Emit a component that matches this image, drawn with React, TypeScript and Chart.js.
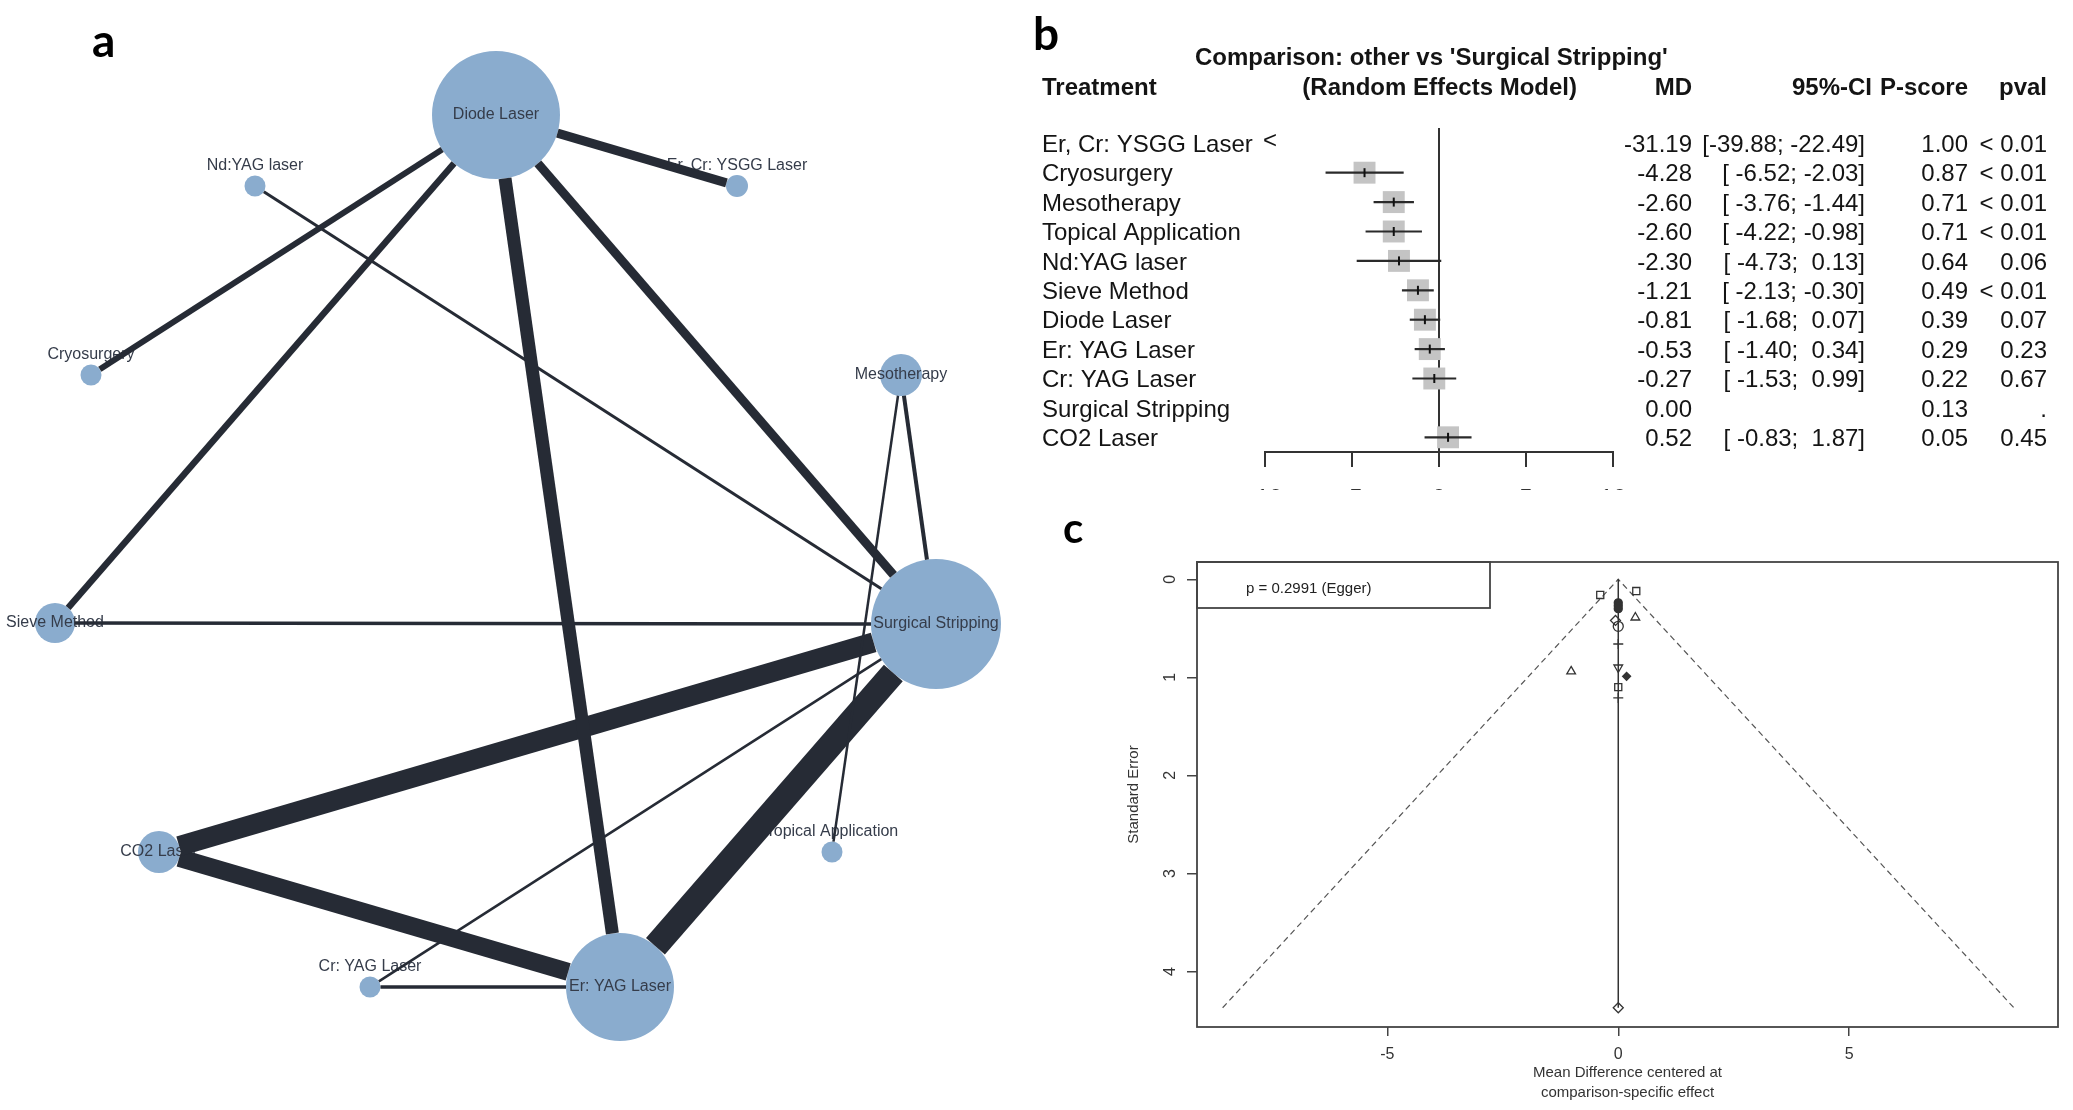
import React, { useEffect, useRef } from 'react';
import { Chart, registerables } from 'chart.js';

Chart.register(...registerables);

const FONT = '"Liberation Sans", Arial, Helvetica, sans-serif';
const LETTER_FONT = 'Lato, "Open Sans", "Liberation Sans", sans-serif';
Chart.defaults.font.family = FONT;

// ---------------- Panel a : network ----------------
const nodeNames = [
  'Diode Laser', 'Nd:YAG laser', 'Er, Cr: YSGG Laser', 'Cryosurgery', 'Mesotherapy',
  'Sieve Method', 'Surgical Stripping', 'CO2 Laser', 'Topical Application', 'Cr: YAG Laser', 'Er: YAG Laser',
];
const nodeX = [49.6, 25.5, 73.7, 9.1, 90.1, 5.5, 93.6, 15.9, 83.2, 37.0, 62.0];
const nodeY = [11.5, 18.6, 18.6, 37.5, 37.5, 62.3, 62.4, 85.2, 85.2, 98.7, 98.7];
const nodeSize = [64, 10.5, 11, 10.5, 21, 20, 65, 21, 10.5, 10.5, 54];
const edgeFrom = [0, 0, 0, 0, 0, 1, 4, 4, 5, 7, 7, 10, 9, 9];
const edgeTo = [2, 3, 5, 10, 6, 6, 6, 8, 6, 6, 10, 6, 6, 10];
const edgeWeight = [9, 6, 6.5, 13, 9, 3, 4, 2.5, 3.5, 20, 18, 25, 2.5, 3.5];

// ---------------- Panel b : forest ----------------
const treatments = [
  'Er, Cr: YSGG Laser', 'Cryosurgery', 'Mesotherapy', 'Topical Application', 'Nd:YAG laser',
  'Sieve Method', 'Diode Laser', 'Er: YAG Laser', 'Cr: YAG Laser', 'Surgical Stripping', 'CO2 Laser',
];
const md = [-31.19, -4.28, -2.6, -2.6, -2.3, -1.21, -0.81, -0.53, -0.27, 0.0, 0.52];
const ciLow: (number | null)[] = [-39.88, -6.52, -3.76, -4.22, -4.73, -2.13, -1.68, -1.4, -1.53, null, -0.83];
const ciHigh: (number | null)[] = [-22.49, -2.03, -1.44, -0.98, 0.13, -0.3, 0.07, 0.34, 0.99, null, 1.87];
const pScore = [1.0, 0.87, 0.71, 0.71, 0.64, 0.49, 0.39, 0.29, 0.22, 0.13, 0.05];
const pval = ['< 0.01', '< 0.01', '< 0.01', '< 0.01', '0.06', '< 0.01', '0.07', '0.23', '0.67', '.', '0.45'];
const forestTicks = [-10, -5, 0, 5, 10];

// ---------------- Panel c : funnel ----------------
const funnelX = [-0.39, 0.39, 0.0, 0.0, 0.0, 0.37, -0.06, 0.0, 0.0, -1.02, 0.0, 0.18, 0.0, 0.0, 0.0];
const funnelSE = [0.16, 0.12, 0.24, 0.27, 0.3, 0.39, 0.42, 0.48, 0.66, 0.94, 0.9, 0.99, 1.1, 1.21, 4.37];
const funnelGroup = [0, 0, 1, 1, 1, 2, 3, 4, 5, 2, 6, 7, 0, 5, 3];
const funnelXTicks = [-5, 0, 5];
const funnelYTicks = [0, 1, 2, 3, 4];
const eggerP = 0.2991;

const EDGE = '#262b35';
const NODE = '#8aacce';

function networkConfig(): any {
  const pxPerUnit = 10;
  const edgeSets = edgeFrom.map((f, k) => {
    const t = edgeTo[k];
    const dx = nodeX[t] - nodeX[f];
    const dy = nodeY[t] - nodeY[f];
    const len = Math.hypot(dx, dy);
    const ux = dx / len;
    const uy = dy / len;
    const s0 = nodeSize[f] / pxPerUnit;
    const s1 = nodeSize[t] / pxPerUnit;
    return {
      type: 'line',
      data: [
        { x: nodeX[f] + ux * s0, y: nodeY[f] + uy * s0 },
        { x: nodeX[t] - ux * s1, y: nodeY[t] - uy * s1 },
      ],
      borderColor: EDGE,
      borderWidth: edgeWeight[k],
      borderCapStyle: 'butt',
      pointRadius: 0,
      tension: 0,
      fill: false,
      clip: false,
      order: 1,
    };
  });
  const nodeSet = {
    type: 'bubble',
    data: nodeX.map((x, i) => ({ x, y: nodeY[i], r: nodeSize[i] })),
    backgroundColor: NODE,
    borderWidth: 0,
    clip: false,
    order: 3,
  };
  const labelPlugin = {
    id: 'netLabels',
    afterDatasetDraw(chart: any, args: any) {
      if (args.meta.type !== 'bubble') return;
      const { ctx, scales } = chart;
      ctx.save();
      ctx.font = `16px ${FONT}`;
      ctx.fillStyle = '#353c4a';
      ctx.textAlign = 'center';
      ctx.textBaseline = 'middle';
      nodeNames.forEach((n, i) => {
        const px = scales.x.getPixelForValue(nodeX[i]);
        const py = scales.y.getPixelForValue(nodeY[i]) - (nodeSize[i] < 15 ? 20 : 0);
        ctx.fillText(n, px, py);
      });
      ctx.restore();
    },
    afterDraw(chart: any) {
      const { ctx } = chart;
      ctx.save();
      ctx.font = `bold 46px ${LETTER_FONT}`;
      ctx.fillStyle = '#000';
      ctx.textAlign = 'left';
      ctx.textBaseline = 'alphabetic';
      ctx.fillText('a', 92, 57);
      ctx.restore();
    },
  };
  return {
    type: 'scatter',
    data: { datasets: [...edgeSets, nodeSet] },
    options: {
      animation: false,
      responsive: false,
      events: [],
      layout: { padding: 0, autoPadding: false },
      plugins: { legend: { display: false }, tooltip: { enabled: false } },
      scales: {
        x: { type: 'linear', min: 0, max: 103, display: false },
        y: { type: 'linear', min: 0, max: 111, reverse: true, display: false },
      },
    },
    plugins: [labelPlugin],
  };
}

function ciLabel(i: number) {
  const lo = (ciLow[i] as number).toFixed(2).padStart(6, ' ');
  const hi = (ciHigh[i] as number).toFixed(2).padStart(5, ' ');
  return `[${lo}; ${hi}]`;
}

function forestConfig(): any {
  const xmin = forestTicks[0];
  const rows = treatments.map((_, i) => i).filter((i) => ciLow[i] !== null && (ciLow[i] as number) >= xmin);
  const datasets: any[] = [
    {
      type: 'line',
      data: [{ x: 0, y: -0.52 }, { x: 0, y: 10.5 }],
      borderColor: '#333',
      borderWidth: 2,
      pointRadius: 0,
      order: 5,
    },
    {
      type: 'scatter',
      data: rows.map((i) => ({ x: md[i], y: i })),
      pointStyle: 'rect',
      pointRadius: 15.5,
      pointBackgroundColor: '#c4c4c4',
      pointBorderWidth: 0,
      order: 4,
    },
    ...rows.map((i) => ({
      type: 'line',
      data: [{ x: ciLow[i], y: i }, { x: ciHigh[i], y: i }],
      borderColor: '#2a2a2a',
      borderWidth: 2.2,
      pointRadius: 0,
      order: 3,
    })),
    {
      type: 'scatter',
      data: rows.map((i) => ({ x: md[i], y: i })),
      pointStyle: 'line',
      pointRotation: 90,
      pointRadius: 4.5,
      pointBorderColor: '#111',
      pointBorderWidth: 2,
      order: 2,
    },
  ];
  const tablePlugin = {
    id: 'forestTable',
    afterDraw(chart: any) {
      const { ctx, scales } = chart;
      const { x, y } = scales;
      ctx.save();
      ctx.fillStyle = '#141414';
      ctx.textBaseline = 'middle';
      ctx.font = `bold 24px ${FONT}`;
      ctx.textAlign = 'left';
      ctx.fillText("Comparison: other vs 'Surgical Stripping'", 165, 58);
      ctx.fillText('Treatment', 12, 88);
      ctx.textAlign = 'right';
      ctx.fillText('(Random Effects Model)', 547, 88);
      ctx.fillText('MD', 662, 88);
      ctx.fillText('95%-CI', 842, 88);
      ctx.fillText('P-score', 938, 88);
      ctx.fillText('pval', 1017, 88);
      ctx.font = `24px ${FONT}`;
      treatments.forEach((t, i) => {
        const py = y.getPixelForValue(i) + 2;
        ctx.textAlign = 'left';
        ctx.fillText(t, 12, py);
        ctx.textAlign = 'right';
        ctx.fillText(md[i].toFixed(2), 662, py);
        if (ciLow[i] !== null) ctx.fillText(ciLabel(i), 835, py);
        ctx.fillText(pScore[i].toFixed(2), 938, py);
        ctx.fillText(pval[i], 1017, py);
        if (ciHigh[i] !== null && (ciHigh[i] as number) < xmin) {
          ctx.textAlign = 'left';
          ctx.fillText('<', x.getPixelForValue(xmin) - 2, py - 4);
        }
      });
      ctx.font = `bold 46px ${LETTER_FONT}`;
      ctx.fillStyle = '#000';
      ctx.textAlign = 'left';
      ctx.textBaseline = 'alphabetic';
      ctx.fillText('b', 3, 50);
      ctx.restore();
    },
  };
  return {
    type: 'scatter',
    data: { datasets },
    options: {
      animation: false,
      responsive: false,
      events: [],
      layout: { padding: { left: 235, right: 460, top: 128, bottom: 0 }, autoPadding: false },
      plugins: { legend: { display: false }, tooltip: { enabled: false } },
      scales: {
        x: {
          type: 'linear',
          min: forestTicks[0],
          max: forestTicks[forestTicks.length - 1],
          afterBuildTicks: (s: any) => {
            s.ticks = forestTicks.map((v) => ({ value: v }));
          },
          afterFit: (s: any) => {
            s.height = 38;
          },
          grid: { drawOnChartArea: false, drawTicks: true, tickLength: 15, color: '#333', lineWidth: 2 },
          border: { display: true, color: '#333', width: 2 },
          ticks: { font: { size: 24 }, color: '#333', padding: 18 },
        },
        y: { type: 'linear', min: -0.52, max: 10.5, reverse: true, display: false },
      },
    },
    plugins: [tablePlugin],
  };
}

function funnelConfig(): any {
  const maxSE = Math.max(...funnelSE);
  const shapes = ['rect', 'circle', 'triangle', 'rectRot', 'circle', 'cross', 'triangle', 'rectRot'];
  const filled = [false, true, false, false, false, false, false, true];
  const rotation = [0, 0, 0, 0, 0, 0, 180, 0];
  const datasets: any[] = [
    {
      type: 'line',
      data: [{ x: -1.96 * maxSE, y: maxSE }, { x: 0, y: 0 }, { x: 1.96 * maxSE, y: maxSE }],
      borderColor: '#555',
      borderWidth: 1.2,
      borderDash: [6, 4],
      pointRadius: 0,
      order: 3,
    },
    {
      type: 'line',
      data: [{ x: 0, y: 0 }, { x: 0, y: maxSE }],
      borderColor: '#333',
      borderWidth: 1.5,
      pointRadius: 0,
      order: 2,
    },
    {
      type: 'scatter',
      data: funnelX.map((x, i) => ({ x, y: funnelSE[i] })),
      pointStyle: funnelGroup.map((g) => shapes[g]),
      pointRotation: funnelGroup.map((g) => rotation[g]),
      pointRadius: funnelGroup.map((g) => (filled[g] ? 4 : 5)),
      pointBackgroundColor: funnelGroup.map((g) => (filled[g] ? '#333' : 'rgba(255,255,255,0)')),
      pointBorderColor: '#333',
      pointBorderWidth: 1.3,
      order: 1,
    },
  ];
  const decor = {
    id: 'funnelDecor',
    afterDraw(chart: any) {
      const { ctx, chartArea: a, scales } = chart;
      ctx.save();
      ctx.strokeStyle = '#444';
      ctx.lineWidth = 1.8;
      ctx.strokeRect(a.left, a.top, a.right - a.left, a.bottom - a.top);
      ctx.strokeRect(a.left, a.top, 293, 46);
      ctx.fillStyle = '#222';
      ctx.font = `15px ${FONT}`;
      ctx.textAlign = 'left';
      ctx.textBaseline = 'middle';
      ctx.fillText(`p = ${eggerP} (Egger)`, a.left + 49, a.top + 27);
      ctx.font = `16px ${FONT}`;
      ctx.textAlign = 'center';
      ctx.fillStyle = '#333';
      funnelYTicks.forEach((v) => {
        const py = scales.y.getPixelForValue(v);
        ctx.save();
        ctx.translate(a.left - 26, py);
        ctx.rotate(-Math.PI / 2);
        ctx.fillText(String(v), 0, 0);
        ctx.restore();
      });
      ctx.font = `15px ${FONT}`;
      ctx.save();
      ctx.translate(a.left - 63, (a.top + a.bottom) / 2);
      ctx.rotate(-Math.PI / 2);
      ctx.fillText('Standard Error', 0, 0);
      ctx.restore();
      const cx = (a.left + a.right) / 2;
      ctx.fillText('Mean Difference centered at', cx, a.bottom + 46);
      ctx.fillText('comparison-specific effect', cx, a.bottom + 66);
      ctx.font = `bold 42px ${LETTER_FONT}`;
      ctx.fillStyle = '#000';
      ctx.textAlign = 'left';
      ctx.textBaseline = 'alphabetic';
      ctx.fillText('c', 5, 43);
      ctx.restore();
    },
  };
  return {
    type: 'scatter',
    data: { datasets },
    options: {
      animation: false,
      responsive: false,
      events: [],
      layout: { padding: { left: 0, right: 15, top: 62, bottom: 0 }, autoPadding: false },
      plugins: { legend: { display: false }, tooltip: { enabled: false } },
      scales: {
        x: {
          type: 'linear',
          min: -9.12,
          max: 9.52,
          afterBuildTicks: (s: any) => {
            s.ticks = funnelXTicks.map((v) => ({ value: v }));
          },
          afterFit: (s: any) => {
            s.height = 83;
          },
          grid: { drawOnChartArea: false, drawTicks: true, tickLength: 9, color: '#444', lineWidth: 1.5 },
          border: { display: false },
          ticks: { font: { size: 16 }, color: '#333', padding: 9 },
        },
        y: {
          type: 'linear',
          min: -0.176,
          max: 4.566,
          reverse: true,
          afterBuildTicks: (s: any) => {
            s.ticks = funnelYTicks.map((v) => ({ value: v }));
          },
          afterFit: (s: any) => {
            s.width = 139;
          },
          grid: { drawOnChartArea: false, drawTicks: true, tickLength: 10, color: '#444', lineWidth: 1.5 },
          border: { display: false },
          ticks: { display: false },
        },
      },
    },
    plugins: [decor],
  };
}

export default function App() {
  const aRef = useRef<HTMLCanvasElement>(null);
  const bRef = useRef<HTMLCanvasElement>(null);
  const cRef = useRef<HTMLCanvasElement>(null);

  useEffect(() => {
    document.body.style.margin = '0';
    document.body.style.overflow = 'hidden';
    const charts: Chart[] = [];
    if (aRef.current) charts.push(new Chart(aRef.current, networkConfig()));
    if (bRef.current) charts.push(new Chart(bRef.current, forestConfig()));
    if (cRef.current) charts.push(new Chart(cRef.current, funnelConfig()));
    return () => charts.forEach((c) => c.destroy());
  }, []);

  return (
    <div style={{ position: 'absolute', left: 0, top: 0, width: 2073, height: 1110, background: '#fff', overflow: 'hidden' }}>
      <canvas ref={aRef} width={1030} height={1110} style={{ position: 'absolute', left: 0, top: 0 }} />
      <canvas ref={bRef} width={1043} height={490} style={{ position: 'absolute', left: 1030, top: 0 }} />
      <canvas ref={cRef} width={1015} height={610} style={{ position: 'absolute', left: 1058, top: 500 }} />
    </div>
  );
}
